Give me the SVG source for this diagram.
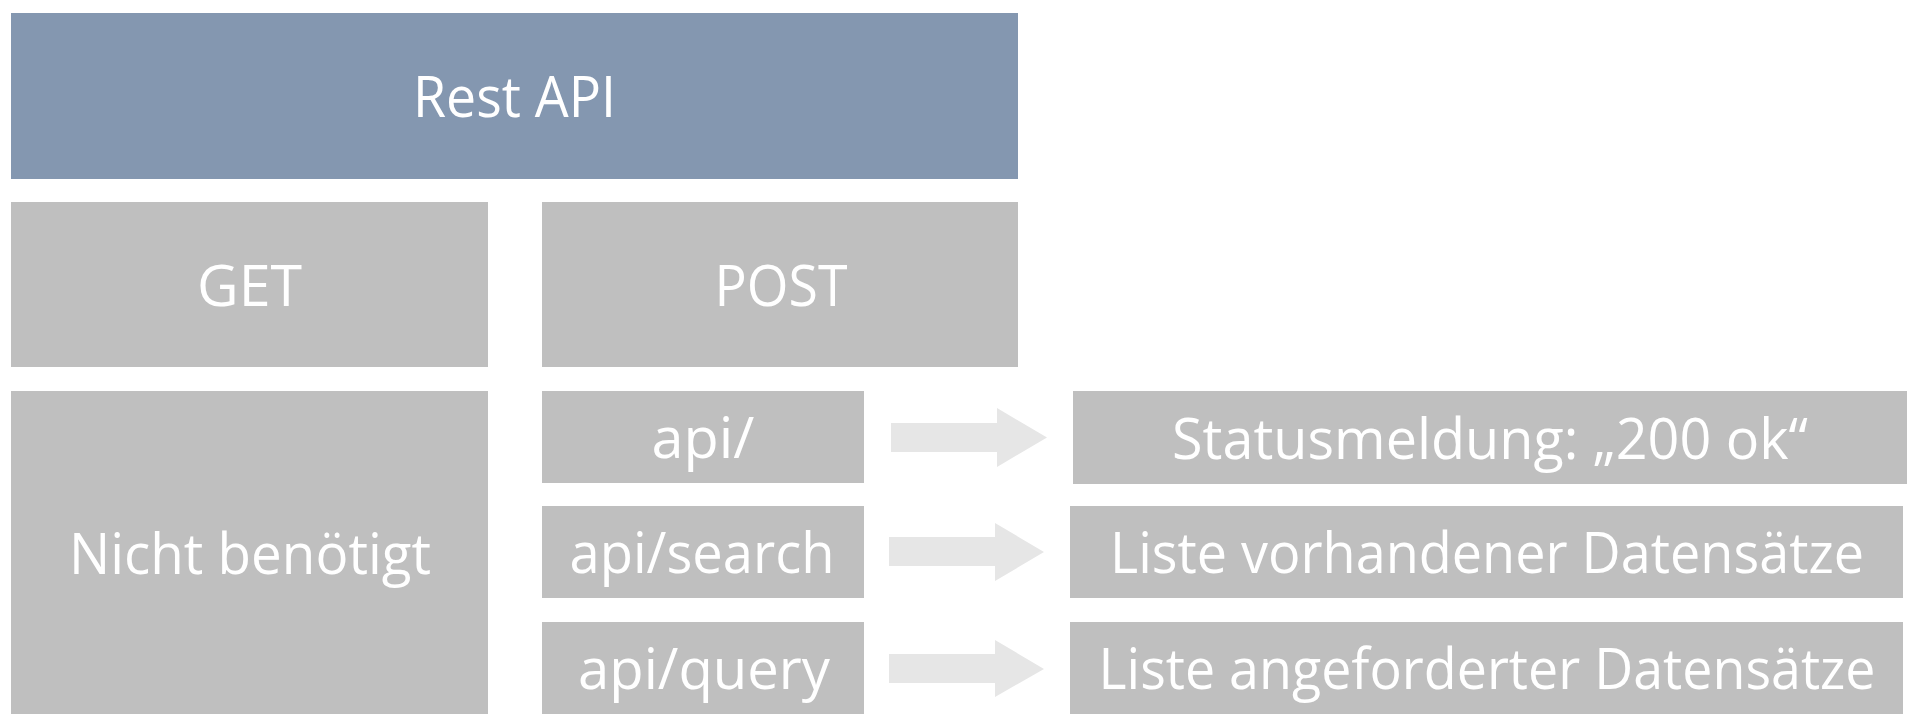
<svg xmlns="http://www.w3.org/2000/svg" width="1919" height="728" viewBox="0 0 1919 728">
<style>
.blue{fill:#8497B0}
.box{fill:#BFBFBF}
.arrow{fill:#E6E6E6}
text{font-family:"Open Sans","Liberation Sans",sans-serif;font-size:56px;fill:#FFFFFF;text-anchor:middle}
</style>
<rect width="1919" height="728" fill="#FFFFFF"/>
<g id="rest-api">
<rect class="blue" x="11" y="13" width="1007" height="166"/>
<text x="514.5" y="117" textLength="203" lengthAdjust="spacingAndGlyphs">Rest API</text>
</g>
<g id="get">
<rect class="box" x="11" y="202" width="477" height="165"/>
<text x="249.5" y="306" textLength="105" lengthAdjust="spacingAndGlyphs">GET</text>
</g>
<g id="post">
<rect class="box" x="542" y="202" width="476" height="165"/>
<text x="781" y="306" textLength="133" lengthAdjust="spacingAndGlyphs">POST</text>
</g>
<g id="nicht-benoetigt">
<rect class="box" x="11" y="391" width="477" height="323"/>
<text x="250" y="574" textLength="362" lengthAdjust="spacingAndGlyphs">Nicht benötigt</text>
</g>
<g id="api-root">
<rect class="box" x="542" y="391" width="322" height="92"/>
<text x="703" y="458" textLength="103" lengthAdjust="spacingAndGlyphs">api/</text>
</g>
<g id="api-search">
<rect class="box" x="542" y="506" width="322" height="92"/>
<text x="702" y="573" textLength="265" lengthAdjust="spacingAndGlyphs">api/search</text>
</g>
<g id="api-query">
<rect class="box" x="542" y="622" width="322" height="92"/>
<text x="704" y="689" textLength="252" lengthAdjust="spacingAndGlyphs">api/query</text>
</g>
<g id="status">
<rect class="box" x="1073" y="391" width="834" height="93"/>
<text x="1490" y="459" textLength="636" lengthAdjust="spacingAndGlyphs">Statusmeldung: „200 ok“</text>
</g>
<g id="liste-vorhandener">
<rect class="box" x="1070" y="506" width="833" height="92"/>
<text x="1487" y="573" textLength="754" lengthAdjust="spacingAndGlyphs">Liste vorhandener Datensätze</text>
</g>
<g id="liste-angeforderter">
<rect class="box" x="1070" y="622" width="833" height="92"/>
<text x="1487" y="689" textLength="777" lengthAdjust="spacingAndGlyphs">Liste angeforderter Datensätze</text>
</g>
<g id="connectors">
<polygon class="arrow" points="891,423 997,423 997,408 1047,437.5 997,467 997,452 891,452"/>
<polygon class="arrow" points="889,537 995,537 995,523 1044,552 995,581 995,566 889,566"/>
<polygon class="arrow" points="889,654 995,654 995,640 1044,669 995,697 995,683 889,683"/>
</g>
</svg>
